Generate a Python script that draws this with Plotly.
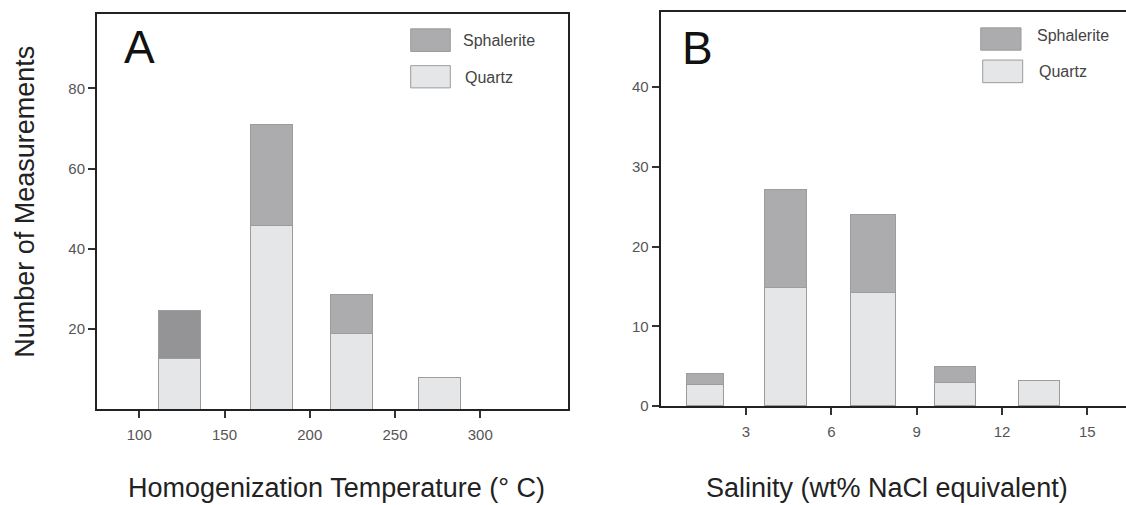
import plotly.graph_objects as go

# ---------------- data ----------------
temp_bins = [124, 178, 225, 276.5]
temp_quartz = [12.6, 45.8, 18.9, 7.9]
temp_sphalerite = [11.9, 25.2, 9.7, None]

sal_bins = [1.57, 4.39, 7.47, 10.36, 13.3]
sal_quartz = [2.7, 14.9, 14.2, 3.0, 3.2]
sal_sphalerite = [1.4, 12.3, 9.8, 1.9, None]

temp_ticks = [100, 150, 200, 250, 300]
temp_yticks = [20, 40, 60, 80]
sal_ticks = [3, 6, 9, 12, 15]
sal_yticks = [0, 10, 20, 30, 40]

series_names = ["Sphalerite", "Quartz"]

# ---------------- style ----------------
W, H = 1126, 505
FONT = "Liberation Sans, Arial, sans-serif"
QZ = "#e5e6e8"
SPH = "#acacae"
SPH_DARK = "#949496"
EDGE = "#9c9c9c"


def px(x):
    return x / W


def py(y):
    return 1 - y / H


fig = go.Figure()

# Panel A
fig.add_trace(go.Bar(x=temp_bins, y=temp_quartz, width=24.5, name=series_names[1],
                     marker=dict(color=QZ, line=dict(color=EDGE, width=1)),
                     xaxis="x", yaxis="y", showlegend=False))
fig.add_trace(go.Bar(x=temp_bins, y=temp_sphalerite, width=24.5, name=series_names[0],
                     marker=dict(color=[SPH_DARK, SPH, SPH, SPH], line=dict(color=EDGE, width=1)),
                     xaxis="x", yaxis="y", showlegend=False))
# Panel B
fig.add_trace(go.Bar(x=sal_bins, y=sal_quartz, width=[1.3, 1.5, 1.55, 1.45, 1.45], name=series_names[1],
                     marker=dict(color=QZ, line=dict(color=EDGE, width=1)),
                     xaxis="x2", yaxis="y2", showlegend=False))
fig.add_trace(go.Bar(x=sal_bins, y=sal_sphalerite, width=[1.3, 1.5, 1.55, 1.45, 1.45], name=series_names[0],
                     marker=dict(color=SPH, line=dict(color=EDGE, width=1)),
                     xaxis="x2", yaxis="y2", showlegend=False))

axis_common = dict(showline=True, linecolor="#222", linewidth=2, ticks="outside",
                   tickwidth=1.5, tickcolor="#333", showgrid=False, zeroline=False,
                   tickfont=dict(family=FONT, size=15, color="#555"))
x_extra = dict(ticklen=7, ticklabelstandoff=4)
y_extra = dict(ticklen=7)

fig.update_layout(
    width=W, height=H,
    margin=dict(l=0, r=0, t=0, b=0),
    paper_bgcolor="white", plot_bgcolor="white",
    barmode="stack", bargap=0,
    showlegend=False,
    xaxis=dict(domain=[px(97), px(568)], range=[75.2, 351.5], anchor="y",
               tickvals=temp_ticks, mirror=True, **axis_common, **x_extra),
    yaxis=dict(domain=[py(416), py(14)], range=[0, 98.6], anchor="x",
               tickvals=temp_yticks, mirror=True, **axis_common, **y_extra),
    xaxis2=dict(domain=[px(660.7), 1.0], range=[0, 16.36], anchor="y2",
                tickvals=sal_ticks, mirror=True, **axis_common, **x_extra),
    yaxis2=dict(domain=[py(412.5), py(11.7)], range=[0, 49.5], anchor="x2",
                tickvals=sal_yticks, mirror=False, **axis_common, **y_extra),
)

shapes = []
annotations = []


def legend(sx0, sx1, sy, qx0, qx1, qy, tx_s, ty_s, tx_q, ty_q):
    shapes.append(dict(type="rect", xref="paper", yref="paper",
                       x0=px(sx0), x1=px(sx1), y0=py(sy[1]), y1=py(sy[0]),
                       fillcolor=SPH, line=dict(color=EDGE, width=1)))
    shapes.append(dict(type="rect", xref="paper", yref="paper",
                       x0=px(qx0), x1=px(qx1), y0=py(qy[1]), y1=py(qy[0]),
                       fillcolor=QZ, line=dict(color=EDGE, width=1)))
    annotations.append(dict(text=series_names[0], xref="paper", yref="paper",
                            x=px(tx_s), y=py(ty_s), xanchor="left", yanchor="middle",
                            showarrow=False, font=dict(family=FONT, size=16, color="#444")))
    annotations.append(dict(text=series_names[1], xref="paper", yref="paper",
                            x=px(tx_q), y=py(ty_q), xanchor="left", yanchor="middle",
                            showarrow=False, font=dict(family=FONT, size=16, color="#444")))


legend(410.7, 450.3, (29.3, 52.3), 410.7, 450.3, (66.7, 89.3), 461, 40.7, 463, 78.5)
legend(980.7, 1021, (28.3, 51), 982.7, 1022.7, (61, 84), 1034.5, 35.7, 1037, 73)

# panel letters
annotations.append(dict(text="A", xref="paper", yref="paper", x=px(139), y=py(48),
                        xanchor="center", yanchor="middle", showarrow=False,
                        font=dict(family=FONT, size=46, color="#111")))
annotations.append(dict(text="B", xref="paper", yref="paper", x=px(697), y=py(49),
                        xanchor="center", yanchor="middle", showarrow=False,
                        font=dict(family=FONT, size=46, color="#111")))

# axis titles
annotations.append(dict(text="Number of Measurements", xref="paper", yref="paper",
                        x=px(25), y=py(205), xanchor="center", yanchor="middle",
                        textangle=-90, showarrow=False,
                        font=dict(family=FONT, size=27, color="#222")))
annotations.append(dict(text="Homogenization Temperature (° C)", xref="paper", yref="paper",
                        x=px(336), y=py(496), xanchor="center", yanchor="middle",
                        showarrow=False, font=dict(family=FONT, size=27, color="#222")))
annotations.append(dict(text="Salinity (wt% NaCl equivalent)", xref="paper", yref="paper",
                        x=px(887), y=py(496), xanchor="center", yanchor="middle",
                        showarrow=False, font=dict(family=FONT, size=27, color="#222")))

fig.update_layout(shapes=shapes, annotations=annotations)
fig.write_html("out.html", config={"displayModeBar": False},
               post_script="document.body.style.margin='0';")
